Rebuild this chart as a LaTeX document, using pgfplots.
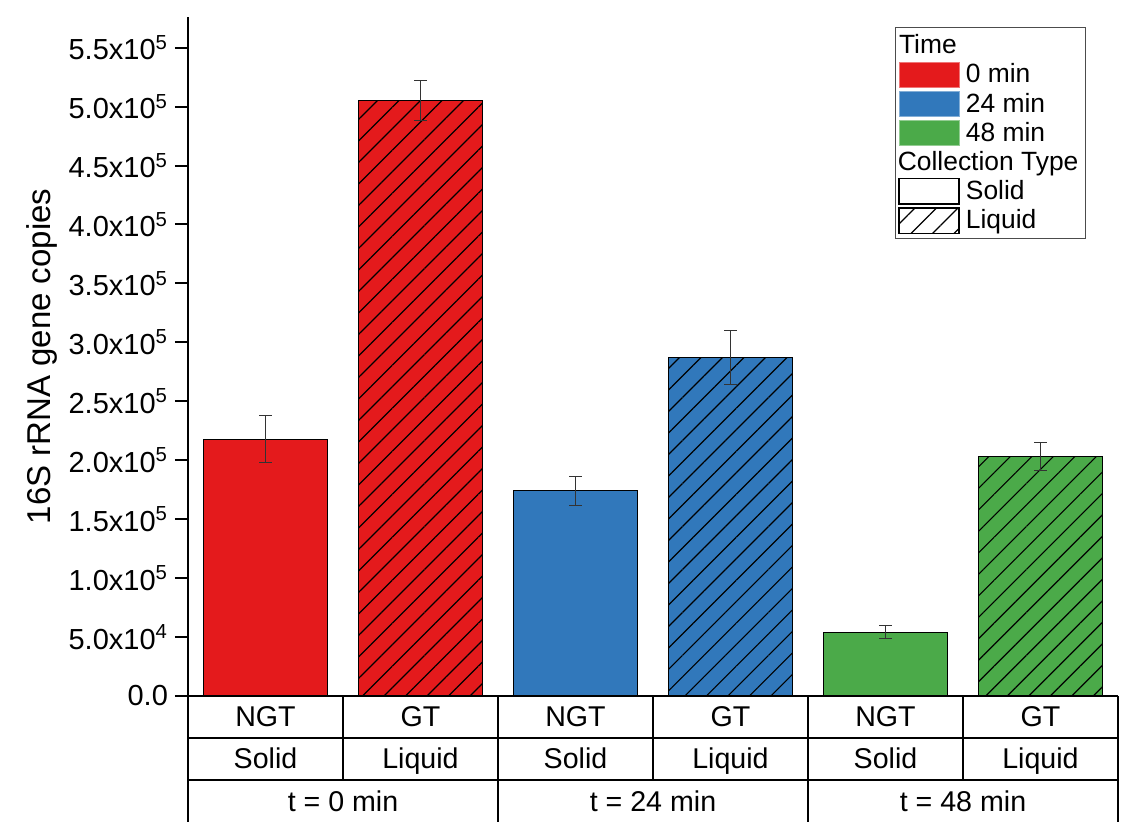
\documentclass[border=0pt]{standalone}
\usepackage{fontspec}
\setmainfont{Liberation Sans}
\usepackage{pgfplots}
\pgfplotsset{compat=1.18}
\usetikzlibrary{patterns.meta}
\definecolor{cR}{HTML}{E41A1C}
\definecolor{cB}{HTML}{3178BB}
\definecolor{cG}{HTML}{4BAA49}
\tikzset{hatch/.style={postaction={pattern={Lines[angle=45,distance=7.6pt,line width=0.6pt]},pattern color=black}}}
\pgfplotsset{
  mybar/.style={ybar, bar width=0.8, bar shift=0pt, draw=black, line width=0.6pt,
    error bars/y dir=both, error bars/y explicit,
    error bars/error bar style={line width=0.5pt, black!80},
    error bars/error mark options={rotate=90, mark size=3.2pt, line width=0.5pt, black!80}},
}
\begin{document}
\begin{tikzpicture}
\begin{axis}[
  name=ax, at={(0,0)}, anchor=south west,
  scale only axis, width=465pt, height=339.5pt,
  xmin=0, xmax=6, ymin=0, ymax=5.76e5,
  axis lines*=left,
  axis line style={line width=1pt, black},
  xtick=\empty,
  ytick={0,50000,100000,150000,200000,250000,300000,350000,400000,450000,500000,550000},
  yticklabels={0.0,5.0x10\textsuperscript{4},1.0x10\textsuperscript{5},1.5x10\textsuperscript{5},2.0x10\textsuperscript{5},2.5x10\textsuperscript{5},3.0x10\textsuperscript{5},3.5x10\textsuperscript{5},4.0x10\textsuperscript{5},4.5x10\textsuperscript{5},5.0x10\textsuperscript{5},5.5x10\textsuperscript{5}},
  scaled y ticks=false,
  tick align=outside, major tick length=6.5pt,
  y tick style={line width=1pt, black},
  yticklabel style={font=\fontsize{14.5}{17}\selectfont},
  clip=false,
  legend cell align=left,
  legend style={at={(rel axis cs:0.760,0.985)}, anchor=north west, draw=black!70, line width=0.5pt,
    font=\fontsize{13.2}{15}\selectfont, row sep=-0.5pt, inner sep=1.5pt},
]
\addplot[mybar, fill=cR, forget plot] coordinates {(0.5,217900) +- (0,20000)};
\addplot[mybar, fill=cR, hatch, forget plot] coordinates {(1.5,505300) +- (0,17000)};
\addplot[mybar, fill=cB, forget plot] coordinates {(2.5,174000) +- (0,12600)};
\addplot[mybar, fill=cB, hatch, forget plot] coordinates {(3.5,286900) +- (0,23000)};
\addplot[mybar, fill=cG, forget plot] coordinates {(4.5,54100) +- (0,5700)};
\addplot[mybar, fill=cG, hatch, forget plot] coordinates {(5.5,203100) +- (0,12000)};

\addlegendimage{legend image code/.code={\path[draw=none,fill=none] (0pt,-6.4pt) rectangle (30pt,6.4pt);}}
\addlegendentry{\hspace*{-33pt}Time}
\addlegendimage{legend image code/.code={\draw[fill=cR, draw=cR!60, line width=0.5pt] (0pt,-6.4pt) rectangle (30pt,6.4pt);}}
\addlegendentry{\hspace*{1pt}0 min}
\addlegendimage{legend image code/.code={\draw[fill=cB, draw=cB!60, line width=0.5pt] (0pt,-6.4pt) rectangle (30pt,6.4pt);}}
\addlegendentry{\hspace*{1pt}24 min}
\addlegendimage{legend image code/.code={\draw[fill=cG, draw=cG!60, line width=0.5pt] (0pt,-6.4pt) rectangle (30pt,6.4pt);}}
\addlegendentry{\hspace*{1pt}48 min}
\addlegendimage{legend image code/.code={\path[draw=none,fill=none] (0pt,-6.4pt) rectangle (30pt,6.4pt);}}
\addlegendentry{\hspace*{-33pt}Collection Type}
\addlegendimage{legend image code/.code={\draw[fill=white, draw=black, line width=0.8pt] (0pt,-6.4pt) rectangle (30pt,6.4pt);}}
\addlegendentry{\hspace*{1pt}Solid}
\addlegendimage{legend image code/.code={\draw[fill=white, draw=black, line width=0.8pt, postaction={pattern={Lines[angle=45,distance=7.6pt,line width=0.6pt]},pattern color=black}] (0pt,-6.4pt) rectangle (30pt,6.4pt);}}
\addlegendentry{\hspace*{1pt}Liquid}

% category table below the axis
\draw[line width=1pt] (axis cs:0,0) -- ([yshift=-63pt]axis cs:0,0);
\draw[line width=1pt] ([yshift=-21pt]axis cs:0,0) -- ([yshift=-21pt]axis cs:6,0);
\draw[line width=1pt] ([yshift=-42pt]axis cs:0,0) -- ([yshift=-42pt]axis cs:6,0);
\draw[line width=1pt] (axis cs:0,0) -- (axis cs:6,0);
\draw[line width=1pt] (axis cs:2,0) -- ([yshift=-63pt]axis cs:2,0);
\draw[line width=1pt] (axis cs:4,0) -- ([yshift=-63pt]axis cs:4,0);
\draw[line width=1pt] (axis cs:6,0) -- ([yshift=-63pt]axis cs:6,0);
\draw[line width=1pt] (axis cs:1,0) -- ([yshift=-42pt]axis cs:1,0);
\draw[line width=1pt] (axis cs:3,0) -- ([yshift=-42pt]axis cs:3,0);
\draw[line width=1pt] (axis cs:5,0) -- ([yshift=-42pt]axis cs:5,0);
\begin{scope}[every node/.style={font=\fontsize{14.3}{17}\selectfont, anchor=base}]
\node at ([yshift=-15.4pt]axis cs:0.5,0) {NGT};
\node at ([yshift=-15.4pt]axis cs:1.5,0) {GT};
\node at ([yshift=-15.4pt]axis cs:2.5,0) {NGT};
\node at ([yshift=-15.4pt]axis cs:3.5,0) {GT};
\node at ([yshift=-15.4pt]axis cs:4.5,0) {NGT};
\node at ([yshift=-15.4pt]axis cs:5.5,0) {GT};
\node at ([yshift=-36.2pt]axis cs:0.5,0) {Solid};
\node at ([yshift=-36.2pt]axis cs:1.5,0) {Liquid};
\node at ([yshift=-36.2pt]axis cs:2.5,0) {Solid};
\node at ([yshift=-36.2pt]axis cs:3.5,0) {Liquid};
\node at ([yshift=-36.2pt]axis cs:4.5,0) {Solid};
\node at ([yshift=-36.2pt]axis cs:5.5,0) {Liquid};
\node at ([yshift=-57.6pt]axis cs:1,0) {t = 0 min};
\node at ([yshift=-57.6pt]axis cs:3,0) {t = 24 min};
\node at ([yshift=-57.6pt]axis cs:5,0) {t = 48 min};
\end{scope}
\end{axis}
\node[rotate=90, font=\fontsize{16.5}{20}\selectfont] at ([xshift=-73pt]ax.west) {16S rRNA gene copies};
\pgfresetboundingbox
\path[use as bounding box] ([xshift=-94pt,yshift=-63pt]ax.south west) rectangle ([xshift=468pt,yshift=348pt]ax.south west);
\end{tikzpicture}
\end{document}
